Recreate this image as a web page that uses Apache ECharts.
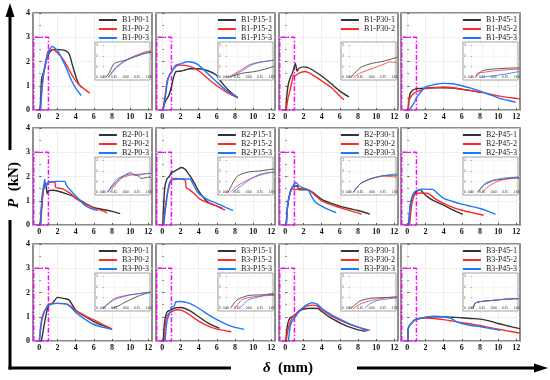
<!DOCTYPE html>
<html><head><meta charset="utf-8">
<script src="https://cdn.jsdelivr.net/npm/echarts@6/dist/echarts.min.js"></script>
<style>html,body{margin:0;padding:0;background:#fff}#c{width:550px;height:380px}</style>
</head><body><div id="c"></div>
<script>
// ---- tick labels / categories ----
const xTicks = [0, 2, 4, 6, 8, 10, 12];
const yTicks = [0, 1, 2, 3, 4];
const insetXTicks = [0, 0.25, 0.5, 0.75, 1];
const insetYTicks = [0, 1, 2, 3];
const beams = ['B1', 'B2', 'B3'];
const angles = ['P0', 'P15', 'P30', 'P45'];
const curveColors = ['#333333', '#ff2a2a', '#1e78ff'];
const rectX = [-0.62, 1];
const rectY = [0, 3];

// ---- series values [delta (mm), P (kN)] ----
const B1_P0_1 = [[0.07,0],[0.15,0.5],[0.25,1.3],[0.5,1.6],[0.75,2.0],[1.0,2.3],[1.6,2.5],[2.5,2.48],[3.0,2.42],[3.3,2.3],[3.6,1.9],[4.0,1.4],[4.3,1.1],[4.7,0.92]];
const B1_P0_2 = [[0.12,0],[0.2,0.5],[0.3,1.0],[0.5,1.6],[0.75,2.1],[1.0,2.45],[1.5,2.5],[2.0,2.35],[2.5,2.15],[3.0,1.85],[3.5,1.5],[4.0,1.2],[4.5,1.0],[5.0,0.85],[5.55,0.69]];
const B1_P0_3 = [[0.12,0],[0.2,0.4],[0.3,0.9],[0.5,1.55],[0.75,2.0],[1.0,2.36],[1.4,2.62],[2.0,2.45],[2.5,2.1],[3.0,1.7],[3.5,1.25],[4.0,0.9],[4.6,0.6]];
const B1_P15_1 = [[0.05,0],[0.35,0.37],[0.67,0.57],[1.0,0.95],[1.2,1.3],[1.5,1.58],[2.0,1.6],[2.5,1.65],[3.0,1.7],[4.0,1.7],[5.0,1.62],[5.9,1.45],[6.5,1.15],[7.2,0.85],[8.3,0.5]];
const B1_P15_2 = [[0.05,0],[0.34,0.71],[0.5,1.14],[0.67,1.37],[1.0,1.57],[1.5,1.8],[2.0,1.85],[3.0,1.8],[4.0,1.62],[5.0,1.3],[6.0,1.0],[7.0,0.75],[8.2,0.52]];
const B1_P15_3 = [[0.1,0],[0.34,0.57],[0.55,1.14],[0.75,1.4],[1.0,1.57],[1.5,1.85],[2.0,1.9],[2.8,1.99],[3.5,1.95],[4.0,1.85],[5.0,1.5],[6.0,1.15],[7.0,0.82],[8.3,0.52]];
const B1_P30_1 = [[0.05,0],[0.25,0.9],[0.5,1.3],[0.75,1.5],[1.0,1.8],[1.1,1.92],[1.3,1.6],[1.5,1.72],[2.0,1.78],[2.5,1.75],[3.0,1.65],[4.0,1.4],[5.0,1.1],[6.0,0.78],[7.0,0.54]];
const B1_P30_2 = [[0.1,0],[0.25,0.4],[0.5,0.8],[0.75,1.2],[0.9,1.45],[1.0,1.4],[1.5,1.52],[2.1,1.59],[2.5,1.55],[3.0,1.45],[4.0,1.2],[5.0,0.95],[5.8,0.65],[6.45,0.42]];
const B1_P45_1 = [[0.1,0],[0.25,0.6],[0.5,0.78],[1.0,0.88],[1.5,0.89],[2,0.9],[3,0.92],[4,0.92],[5,0.9],[6,0.85],[7,0.8],[8.2,0.72]];
const B1_P45_2 = [[0.1,0],[0.15,0.4],[0.25,0.45],[0.5,0.6],[0.75,0.7],[1.0,0.75],[1.5,0.82],[2,0.88],[3,0.92],[4,0.95],[5,0.92],[6,0.86],[7,0.8],[8,0.74],[9,0.66],[10,0.58],[11,0.52],[12,0.48],[12.4,0.46]];
const B1_P45_3 = [[0.2,0],[0.5,0.15],[0.75,0.3],[1.0,0.5],[1.5,0.75],[2,0.95],[3,1.05],[4,1.1],[5,1.08],[6,1.0],[7,0.9],[8,0.78],[9,0.64],[10,0.5],[11,0.4],[11.9,0.32]];

const B2_P0_1 = [[0.1,0],[0.3,1.0],[0.45,1.5],[0.6,1.72],[0.75,1.6],[0.85,1.3],[1.0,1.42],[1.5,1.43],[2.0,1.4],[3.0,1.28],[4.0,1.13],[5.0,0.9],[6.0,0.72],[7.0,0.64],[8.0,0.56],[8.9,0.47]];
const B2_P0_2 = [[0.15,0],[0.4,1.3],[0.6,1.6],[0.8,1.7],[1.0,1.75],[1.7,1.78],[1.8,1.55],[2.5,1.5],[3.0,1.4],[3.5,1.28],[4.0,1.1],[5.0,0.88],[6.0,0.7],[7.0,0.58],[7.45,0.5]];
const B2_P0_3 = [[0.1,0],[0.3,1.2],[0.5,1.65],[0.6,1.88],[0.7,1.55],[0.85,1.65],[1.0,1.78],[2.0,1.8],[2.8,1.8],[3.0,1.62],[3.5,1.4],[4.0,1.2],[5.0,0.82],[6.0,0.63],[6.4,0.61]];
const B2_P15_1 = [[0.05,0],[0.25,1.5],[0.5,1.9],[0.75,2.0],[1.0,2.15],[1.5,2.25],[2.1,2.37],[2.5,2.3],[3.0,2.05],[3.5,1.75],[4.0,1.4],[5.0,0.95],[6.0,0.78],[6.6,0.68]];
const B2_P15_2 = [[0.1,0],[0.25,0.6],[0.5,1.2],[0.75,1.6],[1.0,1.88],[1.5,1.92],[2.0,1.9],[2.5,1.85],[2.65,1.53],[3.0,1.45],[3.5,1.3],[4.0,1.1],[5.0,0.92],[6.0,0.78],[6.9,0.61]];
const B2_P15_3 = [[0.15,0],[0.4,0.8],[0.6,1.4],[0.8,1.75],[1.0,1.85],[2.0,1.9],[3.0,1.9],[3.5,1.6],[4.0,1.3],[5.0,1.05],[6.0,0.89],[7.0,0.72],[7.8,0.6]];
const B2_P30_1 = [[0.1,0],[0.25,0.8],[0.5,1.3],[0.75,1.55],[1.0,1.6],[1.3,1.62],[1.5,1.45],[2.0,1.45],[2.5,1.45],[3.0,1.35],[4.0,1.06],[5.0,0.9],[6.0,0.78],[7.0,0.68],[8.0,0.6],[9.3,0.45]];
const B2_P30_2 = [[0.1,0],[0.25,0.8],[0.5,1.28],[0.75,1.5],[1.0,1.45],[1.5,1.5],[2.0,1.52],[2.5,1.45],[3.0,1.32],[4.0,0.99],[5.0,0.84],[6.0,0.72],[7.0,0.6],[8.0,0.5],[8.4,0.44]];
const B2_P30_3 = [[0.1,0],[0.25,0.8],[0.5,1.3],[0.75,1.55],[1.0,1.7],[1.2,1.74],[1.5,1.62],[2.0,1.52],[2.5,1.45],[2.9,1.17],[3.3,0.95],[4.0,0.78],[4.9,0.61],[5.6,0.51]];
const B2_P45_1 = [[0.15,0],[0.3,0.7],[0.5,1.1],[0.75,1.25],[1.0,1.38],[1.4,1.46],[1.8,1.3],[2.3,1.14],[3.0,0.98],[4.0,0.82],[5.0,0.62],[6.1,0.44]];
const B2_P45_2 = [[0.25,0],[0.4,0.6],[0.6,1.05],[0.8,1.25],[1.0,1.3],[1.5,1.32],[2.3,1.3],[3.0,1.1],[4.0,0.89],[5.0,0.73],[6.0,0.61],[7.0,0.52],[8.4,0.4]];
const B2_P45_3 = [[0.15,0],[0.3,0.8],[0.5,1.15],[0.75,1.35],[1.0,1.42],[1.5,1.48],[2.0,1.48],[2.8,1.47],[3.2,1.35],[4.0,1.1],[5.0,0.97],[6.0,0.86],[7.0,0.77],[8.0,0.68],[9.0,0.55],[9.7,0.44]];

const B3_P0_1 = [[0.2,0],[0.35,0.25],[0.5,0.6],[0.75,1.1],[1.0,1.45],[1.5,1.58],[2.0,1.8],[2.4,1.78],[2.8,1.75],[3.3,1.68],[4.0,1.28],[5.0,1.02],[6.0,0.8],[7.0,0.63],[8.0,0.49]];
const B3_P0_2 = [[0.0,0],[0.25,0.9],[0.5,1.2],[0.75,1.35],[1.0,1.5],[1.5,1.55],[2.0,1.55],[3.0,1.52],[3.5,1.42],[4.0,1.25],[5.0,1.05],[6.0,0.87],[7.0,0.68],[8.0,0.5]];
const B3_P0_3 = [[0.0,0],[0.25,0.8],[0.5,1.15],[0.75,1.35],[1.0,1.48],[2.0,1.55],[3.0,1.52],[3.5,1.38],[4.0,1.18],[5.0,0.9],[6.0,0.68],[7.0,0.56],[8.0,0.48]];
const B3_P15_1 = [[0.1,0],[0.25,0.8],[0.5,1.2],[0.75,1.25],[1.0,1.3],[1.5,1.37],[2.0,1.38],[3.0,1.25],[4.0,1.0],[5.0,0.75],[6.3,0.52]];
const B3_P15_2 = [[0.2,0],[0.35,0.8],[0.5,1.0],[0.75,1.15],[1.0,1.2],[1.5,1.28],[2.0,1.28],[2.5,1.2],[3.0,1.08],[4.0,0.82],[5.0,0.62],[6.0,0.49],[7.0,0.42],[7.6,0.38]];
const B3_P15_3 = [[0.3,0],[0.5,0.8],[0.75,1.1],[1.0,1.4],[1.3,1.45],[1.5,1.62],[2.0,1.63],[3.0,1.55],[4.0,1.35],[5.0,1.1],[6.0,0.88],[7.0,0.7],[8.0,0.56],[9.0,0.48]];
const B3_P30_1 = [[0.05,0],[0.25,0.7],[0.5,0.95],[0.75,1.0],[1.0,1.05],[1.5,1.22],[2.0,1.32],[3.0,1.35],[3.6,1.34],[4.0,1.22],[5.0,0.95],[6.0,0.75],[7.0,0.58],[8.0,0.46],[8.85,0.4]];
const B3_P30_2 = [[0.1,0],[0.25,0.4],[0.5,0.75],[0.75,0.95],[1.0,1.05],[1.5,1.25],[2.0,1.38],[3.0,1.48],[3.5,1.45],[4.0,1.3],[5.0,1.05],[6.0,0.86],[7.0,0.7],[8.0,0.57],[9.3,0.44]];
const B3_P30_3 = [[0.35,0],[0.45,0.4],[0.6,0.7],[0.8,0.85],[1.0,0.95],[1.5,1.2],[2.0,1.4],[2.5,1.52],[2.9,1.58],[3.5,1.52],[4.0,1.35],[5.0,1.1],[6.0,0.9],[7.0,0.72],[8.0,0.57],[9.1,0.42]];
const B3_P45_1 = [[0.05,0],[0.1,0.5],[0.25,0.65],[0.5,0.75],[0.75,0.85],[1.0,0.9],[2,0.97],[3,1.0],[4,1.0],[5,0.98],[6,0.96],[7,0.93],[8,0.9],[9,0.83],[10,0.72],[11,0.63],[12,0.54],[12.4,0.5]];
const B3_P45_2 = [[0.05,0],[0.1,0.5],[0.25,0.65],[0.5,0.75],[0.75,0.85],[1.0,0.9],[2,0.95],[3,0.93],[4,0.88],[5,0.82],[6,0.76],[7,0.7],[8,0.64],[9,0.56],[10,0.49],[11,0.42],[12,0.35],[12.4,0.33]];
const B3_P45_3 = [[0.05,0],[0.1,0.5],[0.25,0.65],[0.5,0.75],[0.75,0.85],[1.0,0.9],[2,0.98],[3,1.02],[4,1.0],[4.8,0.93],[5.3,0.82],[6,0.72],[7,0.64],[8,0.6],[9,0.52],[10.2,0.44]];

const curves = {
  'B1-P0-1':B1_P0_1,'B1-P0-2':B1_P0_2,'B1-P0-3':B1_P0_3,
  'B1-P15-1':B1_P15_1,'B1-P15-2':B1_P15_2,'B1-P15-3':B1_P15_3,
  'B1-P30-1':B1_P30_1,'B1-P30-2':B1_P30_2,
  'B1-P45-1':B1_P45_1,'B1-P45-2':B1_P45_2,'B1-P45-3':B1_P45_3,
  'B2-P0-1':B2_P0_1,'B2-P0-2':B2_P0_2,'B2-P0-3':B2_P0_3,
  'B2-P15-1':B2_P15_1,'B2-P15-2':B2_P15_2,'B2-P15-3':B2_P15_3,
  'B2-P30-1':B2_P30_1,'B2-P30-2':B2_P30_2,'B2-P30-3':B2_P30_3,
  'B2-P45-1':B2_P45_1,'B2-P45-2':B2_P45_2,'B2-P45-3':B2_P45_3,
  'B3-P0-1':B3_P0_1,'B3-P0-2':B3_P0_2,'B3-P0-3':B3_P0_3,
  'B3-P15-1':B3_P15_1,'B3-P15-2':B3_P15_2,'B3-P15-3':B3_P15_3,
  'B3-P30-1':B3_P30_1,'B3-P30-2':B3_P30_2,'B3-P30-3':B3_P30_3,
  'B3-P45-1':B3_P45_1,'B3-P45-2':B3_P45_2,'B3-P45-3':B3_P45_3
};

// ---- layout ----
const colLeft = [33, 156, 279, 401];
const rowTop = [13, 128, 244];
const W = 119, H = 97;
const FONT = 'Liberation Serif';

const grid = [], xAxis = [], yAxis = [], series = [], legend = [];
let gi = 0;
beams.forEach((b, r) => {
  angles.forEach((a, c) => {
    const names = [1, 2, 3].map(k => `${b}-${a}-${k}`).filter(n => curves[n]);
    const L = colLeft[c], T = rowTop[r];
    // main panel
    const mi = gi++;
    grid.push({left: L, top: T, width: W, height: H, show: true, borderColor: '#6a6a6a', borderWidth: 1.5, backgroundColor: 'transparent'});
    xAxis.push({type: 'value', gridIndex: mi, min: -0.7, max: 12.4,
      axisLine: {show: false},
      axisTick: {show: true, inside: true, length: 2, customValues: xTicks, lineStyle: {color: '#555'}},
      axisLabel: {customValues: xTicks, fontSize: 8, fontWeight: 'bold', fontFamily: FONT, color: '#111', margin: 3},
      splitLine: {show: true, lineStyle: {color: '#e4e4e4', width: 0.6}}});
    yAxis.push({type: 'value', gridIndex: mi, min: 0, max: 4, interval: 1,
      axisLine: {show: false},
      axisTick: {show: true, inside: true, length: 2, lineStyle: {color: '#555'}},
      minorTick: {show: true, splitNumber: 2, length: 1.5, lineStyle: {color: '#777'}},
      axisLabel: {show: c === 0, fontSize: 8, fontWeight: 'bold', fontFamily: FONT, color: '#111', margin: 3},
      splitLine: {show: true, lineStyle: {color: '#e4e4e4', width: 0.6}}});
    // magenta dash-dot window
    series.push({type: 'line', xAxisIndex: mi, yAxisIndex: mi, silent: true, clip: false, symbol: 'none', z: 1,
      data: [[rectX[0], rectY[0]], [rectX[0], rectY[1]], [rectX[1], rectY[1]], [rectX[1], rectY[0]], [rectX[0], rectY[0]]],
      lineStyle: {color: '#ff00ff', width: 1.5, type: [5, 2, 1.5, 2]}});
    names.forEach((n, k) => {
      series.push({type: 'line', name: n, xAxisIndex: mi, yAxisIndex: mi, symbol: 'none', smooth: 0.25, z: 2,
        data: curves[n], color: curveColors[k], lineStyle: {color: curveColors[k], width: 1.4}});
    });
    legend.push({orient: 'vertical', right: 550 - (L + W) + 3, top: T + 3, padding: 0,
      icon: 'rect', itemWidth: 18, itemHeight: 2, itemGap: 1, data: names,
      textStyle: {fontSize: 8, fontFamily: FONT, color: '#222', lineHeight: 8}});
    // inset panel
    const ii = gi++;
    grid.push({left: L + 62, top: T + 29, width: 55, height: 38, show: true, borderColor: '#8a8a8a', borderWidth: 0.8, backgroundColor: '#fff', z: 3});
    xAxis.push({type: 'value', gridIndex: ii, min: -0.17, max: 1.03, z: 4,
      axisLine: {show: false},
      axisTick: {show: true, inside: true, length: 1.2, customValues: insetXTicks, lineStyle: {color: '#666', width: 0.5}},
      axisLabel: {inside: true, customValues: insetXTicks, formatter: v => v.toFixed(2), fontSize: 3.5, fontFamily: FONT, color: '#333', margin: 1},
      splitLine: {show: true, lineStyle: {color: '#ececec', width: 0.5}}});
    yAxis.push({type: 'value', gridIndex: ii, min: -0.25, max: 3.3, z: 4,
      axisLine: {show: false},
      axisTick: {show: true, inside: true, length: 1.2, customValues: insetYTicks, lineStyle: {color: '#666', width: 0.5}},
      axisLabel: {inside: true, customValues: insetYTicks, fontSize: 3.5, fontFamily: FONT, color: '#333', margin: 1},
      splitLine: {show: true, lineStyle: {color: '#ececec', width: 0.5}}});
    names.forEach((n, k) => {
      series.push({type: 'line', name: n, xAxisIndex: ii, yAxisIndex: ii, symbol: 'none', smooth: 0.25, z: 5,
        data: curves[n], color: curveColors[k], lineStyle: {color: curveColors[k], width: 0.8}});
    });
  });
});

const graphic = [
  {type: 'line', shape: {x1: 10, y1: 14, x2: 10, y2: 150}, style: {stroke: '#000', lineWidth: 3}},
  {type: 'polygon', shape: {points: [[10, 3], [5.5, 17], [14.5, 17]]}, style: {fill: '#000'}},
  {type: 'line', shape: {x1: 10, y1: 220, x2: 10, y2: 369.5}, style: {stroke: '#000', lineWidth: 3}},
  {type: 'line', shape: {x1: 8.5, y1: 368, x2: 231, y2: 368}, style: {stroke: '#000', lineWidth: 3}},
  {type: 'line', shape: {x1: 357, y1: 368, x2: 537, y2: 368}, style: {stroke: '#000', lineWidth: 3}},
  {type: 'polygon', shape: {points: [[548, 368], [534, 363.5], [534, 372.5]]}, style: {fill: '#000'}},
  {type: 'text', x: 14, y: 185, rotation: Math.PI / 2,
    style: {text: '{i|P}  (kN)', fontSize: 15, fontWeight: 'bold', fontFamily: FONT, fill: '#000', align: 'center', verticalAlign: 'middle',
      rich: {i: {fontStyle: 'italic', fontSize: 15, fontWeight: 'bold', fontFamily: FONT, fill: '#000'}}}},
  {type: 'text', x: 288, y: 368,
    style: {text: '{i|δ}  (mm)', fontSize: 15, fontWeight: 'bold', fontFamily: FONT, fill: '#000', align: 'center', verticalAlign: 'middle',
      rich: {i: {fontStyle: 'italic', fontSize: 15, fontWeight: 'bold', fontFamily: FONT, fill: '#000'}}}}
];

const chart = echarts.init(document.getElementById('c'), null, {renderer: 'canvas'});
chart.setOption({backgroundColor: '#fff', animation: false, grid, xAxis, yAxis, series, legend, graphic});
</script></body></html>
